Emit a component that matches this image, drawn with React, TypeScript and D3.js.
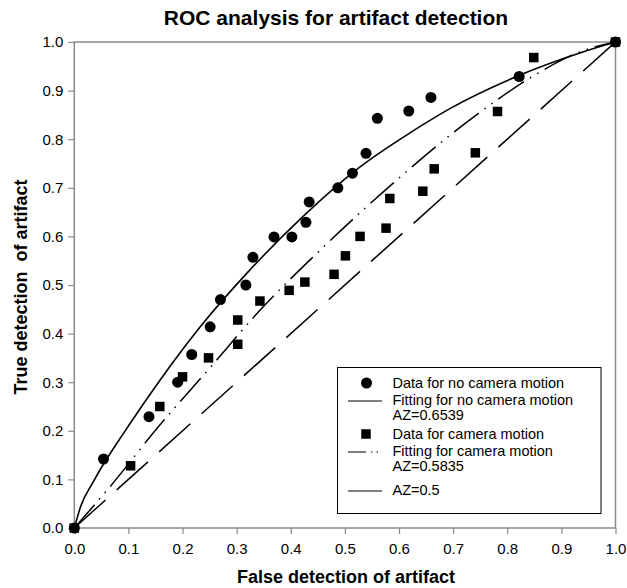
import React, { useEffect, useRef } from "react";
import * as d3 from "d3";

// Observed points, no camera motion (circles)
const noMotionFpr = [0, 0.054, 0.138, 0.191, 0.217, 0.251, 0.270, 0.317, 0.330, 0.369, 0.402, 0.428, 0.434, 0.487, 0.514, 0.539, 0.560, 0.618, 0.659, 0.822, 1.0];
const noMotionTpr = [0, 0.142, 0.229, 0.300, 0.357, 0.414, 0.470, 0.500, 0.557, 0.599, 0.599, 0.629, 0.671, 0.700, 0.730, 0.771, 0.843, 0.858, 0.886, 0.929, 1.0];

// Observed points, camera motion (squares)
const motionFpr = [0, 0.104, 0.158, 0.200, 0.248, 0.302, 0.302, 0.343, 0.397, 0.426, 0.480, 0.501, 0.528, 0.576, 0.583, 0.644, 0.665, 0.741, 0.782, 0.849, 1.0];
const motionTpr = [0, 0.128, 0.250, 0.311, 0.350, 0.378, 0.428, 0.467, 0.489, 0.506, 0.522, 0.560, 0.600, 0.617, 0.678, 0.693, 0.739, 0.772, 0.857, 0.968, 1.0];

// Fitted curve, no camera motion (AZ=0.6539)
const fitNoMotionFpr = [0, 0.012, 0.035, 0.097, 0.143, 0.177, 0.232, 0.322, 0.417, 0.528, 0.623, 0.694, 0.817, 0.941, 1.0];
const fitNoMotionTpr = [0, 0.045, 0.095, 0.205, 0.280, 0.333, 0.413, 0.528, 0.635, 0.743, 0.815, 0.863, 0.929, 0.980, 1.0];

// Fitted curve, camera motion (AZ=0.5835)
const fitMotionFpr = [0, 0.066, 0.158, 0.251, 0.343, 0.448, 0.626, 0.694, 0.780, 0.848, 0.940, 1.0];
const fitMotionTpr = [0, 0.085, 0.212, 0.330, 0.448, 0.565, 0.745, 0.808, 0.880, 0.930, 0.982, 1.0];

// Chance line (AZ=0.5)
const chanceFpr = [0, 1];
const chanceTpr = [0, 1];

const ticks = [0, 0.1, 0.2, 0.3, 0.4, 0.5, 0.6, 0.7, 0.8, 0.9, 1.0];

const legendItems = [
    { kind: "circle", lines: ["Data for no camera motion"] },
    { kind: "solid", lines: ["Fitting for no camera motion", "AZ=0.6539"] },
    { kind: "square", lines: ["Data for camera motion"] },
    { kind: "dashdot", lines: ["Fitting for camera motion", "AZ=0.5835"] },
    { kind: "dash", lines: ["AZ=0.5"] },
];

const FONT = "'Liberation Sans', Arial, Helvetica, sans-serif";
const AXIS = "#8a8a8a";

const W = 627;
const H = 588;

const App = () => {
    const svgRef = useRef<SVGSVGElement | null>(null);

    useEffect(() => {
        if (!svgRef.current) return;
        const svg = d3.select(svgRef.current);
        svg.selectAll("*").remove();

        const x = d3.scaleLinear().domain([0, 1]).range([74.3, 615.5]);
        const y = d3.scaleLinear().domain([0, 1]).range([528, 42]);

        const zip = (a: number[], b: number[]) => a.map((v, i) => [v, b[i]] as [number, number]);

        // ── Title ─────────────────────────────────────────────────────────
        svg.append("text")
            .attr("x", 336).attr("y", 25)
            .attr("text-anchor", "middle")
            .attr("font-family", FONT).attr("font-weight", "bold").attr("font-size", "21px")
            .text("ROC analysis for artifact detection");

        // ── Frame and ticks ───────────────────────────────────────────────
        svg.append("rect")
            .attr("x", x(0)).attr("y", y(1))
            .attr("width", x(1) - x(0)).attr("height", y(0) - y(1))
            .attr("fill", "none").attr("stroke", AXIS).attr("stroke-width", 1.5);

        const xAxis = svg.append("g").attr("transform", `translate(0,${y(0)})`)
            .call(d3.axisBottom(x).tickValues(ticks).tickFormat(d3.format(".1f")).tickSize(6).tickPadding(9));
        const yAxis = svg.append("g").attr("transform", `translate(${x(0)},0)`)
            .call(d3.axisLeft(y).tickValues(ticks).tickFormat(d3.format(".1f")).tickSize(6).tickPadding(5));
        [xAxis, yAxis].forEach(ax => {
            ax.select(".domain").remove();
            ax.selectAll(".tick line").attr("stroke", AXIS).attr("stroke-width", 1.2);
            ax.selectAll(".tick text")
                .attr("fill", "#000").attr("font-size", "15px").attr("font-family", FONT);
        });

        // ── Axis titles ───────────────────────────────────────────────────
        svg.append("text")
            .attr("x", 346).attr("y", 583)
            .attr("text-anchor", "middle")
            .attr("font-family", FONT).attr("font-weight", "bold").attr("font-size", "18px")
            .text("False detection of artifact");
        svg.append("text")
            .attr("transform", `translate(27,287) rotate(-90)`)
            .attr("text-anchor", "middle")
            .attr("font-family", FONT).attr("font-weight", "bold").attr("font-size", "18px")
            .style("white-space", "pre")
            .text("True detection  of artifact");

        // ── Lines ─────────────────────────────────────────────────────────
        const smooth = d3.line<[number, number]>()
            .x(d => x(d[0])).y(d => y(d[1]))
            .curve(d3.curveMonotoneX);

        svg.append("path")
            .attr("d", smooth(zip(chanceFpr, chanceTpr)))
            .attr("fill", "none").attr("stroke", "#000").attr("stroke-width", 1.5)
            .attr("stroke-dasharray", "42,15");
        svg.append("path")
            .attr("d", smooth(zip(fitMotionFpr, fitMotionTpr)))
            .attr("fill", "none").attr("stroke", "#000").attr("stroke-width", 1.5)
            .attr("stroke-dasharray", "31,7,1.5,7,1.5,7");
        svg.append("path")
            .attr("d", smooth(zip(fitNoMotionFpr, fitNoMotionTpr)))
            .attr("fill", "none").attr("stroke", "#000").attr("stroke-width", 1.6);

        // ── Points ────────────────────────────────────────────────────────
        const side = 9.5;
        svg.append("g").selectAll("rect")
            .data(zip(motionFpr, motionTpr))
            .join("rect")
            .attr("x", d => x(d[0]) - side / 2).attr("y", d => y(d[1]) - side / 2)
            .attr("width", side).attr("height", side)
            .attr("fill", "#000");
        svg.append("g").selectAll("circle")
            .data(zip(noMotionFpr, noMotionTpr))
            .join("circle")
            .attr("cx", d => x(d[0])).attr("cy", d => y(d[1]))
            .attr("r", 5.5)
            .attr("fill", "#000");

        // ── Legend ────────────────────────────────────────────────────────
        const legend = svg.append("g");
        legend.append("rect")
            .attr("x", 337.5).attr("y", 367.5)
            .attr("width", 263.5).attr("height", 146)
            .attr("fill", "#fff").attr("stroke", "#000").attr("stroke-width", 1);

        const rowY = [383, 400, 434, 451, 490];
        legendItems.forEach((item, i) => {
            const cy = rowY[i];
            if (item.kind === "circle") {
                legend.append("circle").attr("cx", 366.5).attr("cy", cy).attr("r", 5.5).attr("fill", "#000");
            } else if (item.kind === "square") {
                legend.append("rect").attr("x", 366 - side / 2).attr("y", cy - side / 2)
                    .attr("width", side).attr("height", side).attr("fill", "#000");
            } else {
                const dash = item.kind === "dashdot" ? "18,5,1.5,4,1.5,20" : null;
                legend.append("line")
                    .attr("x1", 348).attr("x2", 382).attr("y1", cy + 1).attr("y2", cy + 1)
                    .attr("stroke", "#000").attr("stroke-width", 1.2)
                    .attr("stroke-dasharray", dash);
            }
            item.lines.forEach((t, j) => {
                legend.append("text")
                    .attr("x", 392.5).attr("y", cy + 5 + j * 15)
                    .attr("font-family", FONT).attr("font-size", "14.5px")
                    .text(t);
            });
        });
    }, []);

    return (
        <svg
            ref={svgRef}
            width={W}
            height={H}
            style={{ position: "absolute", left: 0, top: 0, background: "#fff" }}
        />
    );
};

export default App;
